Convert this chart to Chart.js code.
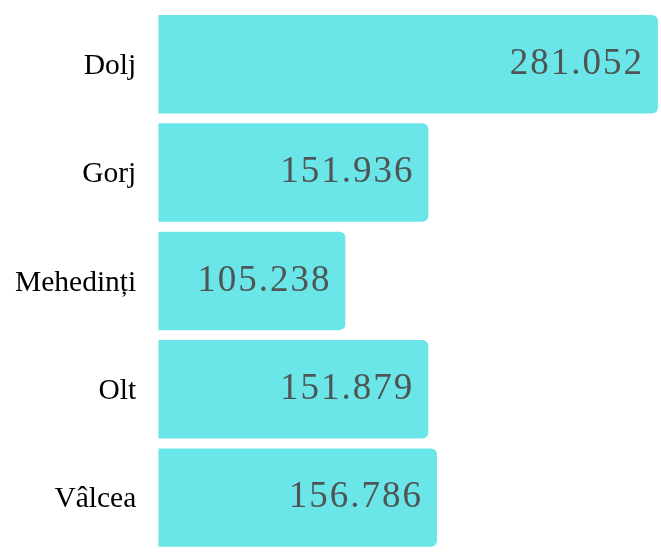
<!DOCTYPE html>
<html>
<head>
<meta charset="utf-8">
<script src="https://cdn.jsdelivr.net/npm/chart.js@4"></script>
<style>
html,body{margin:0;padding:0;background:#fff;}
#wrap{width:661px;height:552px;position:relative;}
</style>
</head>
<body>
<div id="wrap"><canvas id="c"></canvas></div>
<script>
const categories = ["Dolj", "Gorj", "Mehedinți", "Olt", "Vâlcea"];
const values = [281.052, 151.936, 105.238, 151.879, 156.786];
const valueLabels = ["281.052", "151.936", "105.238", "151.879", "156.786"];

const barLabelPlugin = {
  id: 'barLabels',
  afterDatasetsDraw(chart) {
    const ctx = chart.ctx;
    const meta = chart.getDatasetMeta(0);
    ctx.save();
    ctx.font = '37px "Liberation Serif", "Times New Roman", serif';
    ctx.fillStyle = '#4f5555';
    ctx.textAlign = 'right';
    ctx.textBaseline = 'middle';
    try { ctx.letterSpacing = '2px'; } catch (e) {}
    meta.data.forEach((bar, i) => {
      ctx.fillText(valueLabels[i], bar.x - 14, bar.y);
    });
    ctx.restore();
  }
};

new Chart(document.getElementById('c'), {
  type: 'bar',
  data: {
    labels: categories,
    datasets: [{
      data: values,
      backgroundColor: '#6ae6e9',
      borderWidth: 0,
      borderRadius: 6,
      barPercentage: 0.908,
      categoryPercentage: 1
    }]
  },
  options: {
    indexAxis: 'y',
    responsive: true,
    maintainAspectRatio: false,
    animation: false,
    layout: { padding: { left: 15, top: 10, right: 3, bottom: 0 } },
    plugins: { legend: { display: false }, tooltip: { enabled: false } },
    scales: {
      x: { display: false, min: 0, max: 281.052 },
      y: {
        grid: { display: true, drawOnChartArea: false, drawTicks: true, tickLength: 22, color: 'rgba(0,0,0,0)' },
        border: { display: false },
        ticks: {
          padding: 0,
          labelOffset: 2,
          color: '#000',
          font: { family: '"Liberation Serif", "Times New Roman", serif', size: 29.5, lineHeight: 0.01 }
        }
      }
    }
  },
  plugins: [barLabelPlugin]
});
</script>
</body>
</html>
